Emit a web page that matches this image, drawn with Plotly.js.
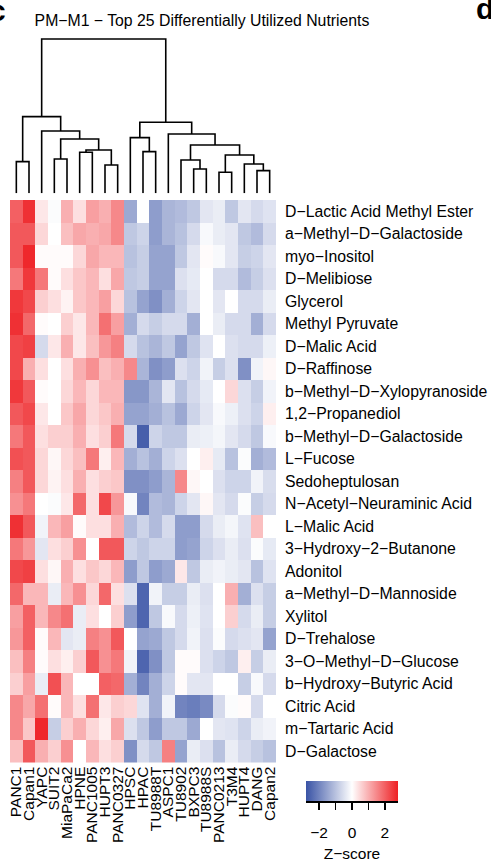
<!DOCTYPE html>
<html>
<head>
<meta charset="utf-8">
<script src="https://cdn.plot.ly/plotly-3.0.1.min.js"></script>
<style>html,body{margin:0;padding:0;background:#fff;}#chart{width:491px;height:863px;}</style>
</head>
<body>
<div id="chart"></div>
<script>
// ---- Data ----
const cellLines = ["PANC1","Capan1","YAPC","SUIT2","MiaPaCa2","HPNE","PANC1005","HUPT3","PANC0327","HPSC","HPAC","TU8988T","ASPC1","TU8902","BXPC3","TU8988S","PANC0213","T3M4","HUPT4","DANG","Capan2"];
const nutrients = ["D\u2212Lactic Acid Methyl Ester","a\u2212Methyl\u2212D\u2212Galactoside","myo\u2212Inositol","D\u2212Melibiose","Glycerol","Methyl Pyruvate","D\u2212Malic Acid","D\u2212Raffinose","b\u2212Methyl\u2212D\u2212Xylopyranoside","1,2\u2212Propanediol","b\u2212Methyl\u2212D\u2212Galactoside","L\u2212Fucose","Sedoheptulosan","N\u2212Acetyl\u2212Neuraminic Acid","L\u2212Malic Acid","3\u2212Hydroxy\u22122\u2212Butanone","Adonitol","a\u2212Methyl\u2212D\u2212Mannoside","Xylitol","D\u2212Trehalose","3\u2212O\u2212Methyl\u2212D\u2212Glucose","b\u2212Hydroxy\u2212Butyric Acid","Citric Acid","m\u2212Tartaric Acid","D\u2212Galactose"];

// z-scores per nutrient (columns in cellLines order)
const dLacticAcidMethylEster = [2.0,2.6,0.3,-0.05,1.0,0.4,1.2,1.0,1.5,-1.4,0,-1.6,-1.2,-1.1,-0.9,-0.4,-0.3,-0.9,-0.4,-0.6,-0.45];
const aMethylDGalactoside   = [2.1,2.1,0.5,0,0.8,1.1,1.0,1.1,1.5,-0.9,-0.7,-1.6,-1.2,-1.0,-0.6,-0.1,-0.3,-0.4,-0.9,-1.1,-0.6];
const myoInositol           = [2.1,2.7,0.05,0.05,0.05,0.5,1.1,0.9,0.9,-1.0,-0.8,-1.5,-1.5,-0.9,-0.4,0.05,-0.1,-0.4,-0.8,-0.7,-0.4];
const dMelibiose            = [1.7,2.5,1.7,0.05,0.4,0.7,0.9,0.4,1.1,-0.9,-0.8,-1.5,-1.5,-0.5,-0.35,0,-0.6,-0.6,-1.1,-0.8,-0.5];
const glycerol              = [2.5,2.3,0.6,0.4,0.15,0.7,0.9,1.2,0.5,-1.0,-1.5,-1.8,-1.3,-0.7,-0.4,0,-0.4,0,-0.6,-0.6,-0.3];
const methylPyruvate        = [2.6,1.9,0.05,0,0.6,0.3,0.9,1.8,1.2,-1.3,-0.6,-0.8,-0.6,-0.6,-1.3,0,-0.3,-0.6,-0.6,-1.3,-0.6];
const dMalicAcid            = [2.3,2.4,-0.6,0.3,1.0,0.3,0.8,1.3,1.6,-0.6,-1.0,-1.2,-0.9,-1.5,-0.9,-0.45,0,-0.5,-0.6,-0.6,-0.25];
const dRaffinose            = [2.3,1.0,0.4,0,0.4,1.0,1.4,0.8,1.0,1.5,-1.2,-1.8,-1.6,-0.5,-0.7,-0.2,-0.8,-0.5,-1.8,-0.2,0.1];
const bMethylDXylopyranoside= [2.5,2.1,0.05,0,0.5,0.9,0.5,0.9,0.9,-1.7,-1.7,-1.2,-0.4,-1.0,-0.6,-0.35,0,0.5,-0.5,-0.8,-0.2];
const propanediol12         = [2.1,2.3,0.3,0,0.7,1.1,0.5,0.7,1.0,-1.5,-1.5,-1.3,-1.0,-1.4,-0.7,-0.4,-0.1,-0.25,-0.5,-0.7,0.2];
const bMethylDGalactoside   = [1.7,2.1,0.4,0.6,0.6,1.0,0.4,0.6,1.7,-0.6,-2.6,-0.7,-0.9,-0.9,-0.3,-0.25,-0.15,-0.4,-0.6,-0.9,-0.1];
const lFucose               = [2.2,2.1,0.5,0.1,0.5,0.8,1.7,0.2,0.9,-1.3,-1.0,-1.3,-0.7,-0.5,0,0.2,-0.35,-1.0,-0.05,-1.3,-1.1];
const sedoheptulosan        = [1.6,2.1,0.5,0.15,0.4,1.0,0.4,0.6,0.7,-1.8,-1.8,-1.6,-1.2,1.5,0.1,0,-0.5,-0.7,-0.7,-0.2,-0.55];
const nAcetylNeuraminicAcid = [1.4,1.7,0,-0.05,0.3,1.9,0.4,2.3,1.3,-0.1,-2.0,-1.1,-1.2,-0.7,-0.4,0.1,-0.4,-0.6,-0.05,-0.8,-0.6];
const lMalicAcid            = [2.6,2.1,-0.2,0.9,1.2,0.05,0.4,0.4,1.0,-1.1,-0.7,-1.1,-0.6,-1.6,-1.6,-0.6,-0.3,-0.15,-0.45,0.8,0];
const hydroxyButanone       = [1.7,1.3,-0.4,0.4,0.6,1.4,0,2.1,2.1,-0.7,-0.9,-0.7,-0.7,-1.6,-1.5,-0.7,-0.5,-0.3,-0.5,-0.05,-0.35];
const adonitol              = [2.3,2.4,0.4,0.1,1.0,0.4,0.7,0.5,0.9,-1.6,-0.9,-1.6,-1.4,0.3,-0.9,-0.3,-0.2,-0.3,-0.4,-1.0,-0.45];
const aMethylDMannoside     = [1.9,0.9,0.9,-0.3,0.9,1.4,0.5,1.9,0.4,-0.5,-2.5,-0.2,-0.8,-0.8,-0.3,-0.5,0,1.0,-1.3,-0.5,-0.8];
const xylitol               = [1.2,2.0,0.9,1.5,1.8,-0.3,0.4,0,0.6,-1.6,-2.5,-0.9,-0.1,-0.6,-0.25,-0.45,0,0.6,-0.6,-0.3,-0.8];
const dTrehalose            = [1.3,2.0,0.05,0.9,-0.4,-0.3,1.6,1.4,2.1,0,-1.5,-1.4,-0.9,-0.6,-0.2,-0.5,-0.05,-0.6,-0.5,-0.4,-1.5];
const oMethylDGlucose       = [0.8,1.6,0.05,0.4,0.2,0.6,2.1,1.4,1.7,-0.2,-2.5,-1.8,-0.9,0.05,0.05,-0.5,-0.7,-0.9,0.2,-0.8,-0.3];
const bHydroxyButyricAcid   = [0.6,1.2,-0.3,2.2,0.9,0,0,2.0,1.9,-1.3,-2.0,-1.3,-0.7,0.05,-0.4,-0.4,0,0,-0.8,-0.1,-0.6];
const citricAcid            = [1.5,1.1,1.8,0.05,0.9,0.4,1.8,0.3,0.6,0.5,-0.45,-1.3,-0.2,-2.0,-2.1,-1.9,-0.6,-0.05,0.05,-0.6,0];
const mTartaricAcid         = [1.5,0.7,2.7,-0.8,0.6,1.0,0.5,0.2,1.1,-0.5,-0.9,-1.6,-0.9,-0.9,-1.4,0,-0.4,-0.45,-0.7,-0.3,-0.2];
const dGalactose            = [0.8,2.1,1.0,0.6,1.4,0,0.9,0.4,0.6,-1.8,-0.6,-0.9,1.6,-1.5,-0.3,-0.5,-1.0,-0.3,-0.6,-0.8,-1.0];

// Column dendrogram (hclust-style merges; "L" = leaf index, "M" = earlier merge number)
const mergeLeft   = ["L0","L3","L5","L7","M3","M2","L2","M1","L10","L9","L14","L13","L16","L19","L18","M13","M12","L12","M10","M8"];
const mergeRight  = ["L1","L4","L6","L8","M4","M5","M6","M7","L11","M9","L15","M11","L17","L20","M14","M15","M16","M17","M18","M19"];
const mergeHeight = [31.7,34.3,41,28.3,43.3,54.3,62.3,76.7,41.7,55.7,24.3,33.3,21,22.7,29.3,38.3,48.3,59.3,71,154.3];

const zTicks = [-2,-1,0,1,2];
const zTickText = ["\u22122","","0","","2"];

// ---- Build ----
const zRows = [dLacticAcidMethylEster,aMethylDGalactoside,myoInositol,dMelibiose,glycerol,methylPyruvate,dMalicAcid,dRaffinose,bMethylDXylopyranoside,propanediol12,bMethylDGalactoside,lFucose,sedoheptulosan,nAcetylNeuraminicAcid,lMalicAcid,hydroxyButanone,adonitol,aMethylDMannoside,xylitol,dTrehalose,oMethylDGlucose,bHydroxyButyricAcid,citricAcid,mTartaricAcid,dGalactose];
const colIdx = cellLines.map((_, i) => i);
const rowIdx = nutrients.map((_, i) => i);

const nodeX = [], nodeH = [];
function childPos(ref) {
  const n = parseInt(ref.slice(1), 10);
  if (ref[0] === "L") return { x: n, h: 0 };
  return { x: nodeX[n - 1], h: nodeH[n - 1] };
}
const dx = [], dy = [];
for (let i = 0; i < mergeHeight.length; i++) {
  const a = childPos(mergeLeft[i]);
  const b = childPos(mergeRight[i]);
  const h = mergeHeight[i];
  nodeX.push((a.x + b.x) / 2);
  nodeH.push(h);
  dx.push(a.x, a.x, b.x, b.x, null);
  dy.push(a.h, h, h, b.h, null);
}

const FONT = "Liberation Sans, Arial, Helvetica, sans-serif";
const W = 491, H = 863;
const mL = 10, mR = 0, mT = 0, mB = 0;
const plotW = W - mL - mR, plotH = H - mT - mB;
const px2paperX = px => (px - mL) / plotW;
const px2paperY = py => (plotH + mT - py) / plotH;
const zLim = 2.8;

const heat = {
  type: "heatmap",
  x: colIdx, y: rowIdx, z: zRows,
  zmin: -zLim, zmax: zLim,
  colorscale: [[0, "#3953a5"], [0.5, "#ffffff"], [1, "#ee2024"]],
  xgap: 0, ygap: 0,
  hoverinfo: "skip",
  colorbar: {
    orientation: "h",
    xref: "paper", yref: "paper",
    x: px2paperX(306), xanchor: "left",
    y: px2paperY(781), yanchor: "top",
    len: 92, lenmode: "pixels",
    thickness: 19.5, thicknessmode: "pixels",
    xpad: 0, ypad: 0,
    outlinewidth: 0,
    ticks: "", showticklabels: false
  }
};

const dendro = {
  type: "scatter", mode: "lines",
  x: dx, y: dy, xaxis: "x", yaxis: "y2",
  line: { color: "#000", width: 1.6 },
  hoverinfo: "skip", showlegend: false
};

// invisible carrier trace for the colour-key axis
const keyAxisTrace = {
  type: "scatter", mode: "markers",
  x: [-zLim, zLim], y: [0.5, 0.5], xaxis: "x2", yaxis: "y3",
  marker: { opacity: 0 }, hoverinfo: "skip", showlegend: false
};

const layout = {
  width: W, height: H,
  margin: { l: mL, r: mR, t: mT, b: mB, pad: 0 },
  paper_bgcolor: "#fff", plot_bgcolor: "rgba(0,0,0,0)",
  font: { family: FONT, color: "#000" },
  showlegend: false,
  title: {
    text: "PM\u2212M1 \u2212 Top 25 Differentially Utilized Nutrients",
    font: { family: FONT, size: 15.8, color: "#000" },
    xref: "container", x: 202 / W, xanchor: "center",
    yref: "container", y: (H - 20.5) / H, yanchor: "middle"
  },
  xaxis: {
    domain: [0, px2paperX(276)],
    range: [-0.5, cellLines.length - 0.5],
    tickmode: "array", tickvals: colIdx, ticktext: cellLines,
    tickangle: -90, ticks: "", showgrid: false, zeroline: false, showline: false,
    tickfont: { family: FONT, size: 15.5, color: "#000" },
    fixedrange: true
  },
  yaxis: {
    domain: [px2paperY(762.5), px2paperY(200)],
    range: [nutrients.length - 0.5, -0.5],
    side: "right",
    tickmode: "array", tickvals: rowIdx, ticktext: nutrients,
    ticks: "", ticklabelstandoff: 8,
    showgrid: false, zeroline: false, showline: false,
    tickfont: { family: FONT, size: 15.8, color: "#000" },
    fixedrange: true
  },
  yaxis2: {
    domain: [px2paperY(193.3), px2paperY(33.3)],
    range: [0, 160],
    visible: false, showgrid: false, zeroline: false,
    fixedrange: true
  },
  xaxis2: {
    domain: [px2paperX(306), px2paperX(398)],
    range: [-zLim, zLim],
    anchor: "y3", side: "bottom",
    showline: true, linecolor: "#000", linewidth: 1.5,
    ticks: "outside", ticklen: 7, tickwidth: 1.5, tickcolor: "#000",
    tickmode: "array", tickvals: zTicks, ticktext: zTickText,
    ticklabelstandoff: 10,
    tickfont: { family: FONT, size: 15.5, color: "#000" },
    title: { text: "Z\u2212score", font: { family: FONT, size: 15.5, color: "#000" }, standoff: 8 },
    showgrid: false, zeroline: false, fixedrange: true
  },
  yaxis3: {
    domain: [px2paperY(801), px2paperY(781)],
    range: [0, 1], anchor: "x2",
    visible: false, fixedrange: true
  },
  annotations: [
    { text: "<b>c</b>", xref: "paper", yref: "paper", x: px2paperX(8), y: px2paperY(10),
      xanchor: "right", yanchor: "middle", showarrow: false,
      font: { family: FONT, size: 30, color: "#000" } },
    { text: "<b>d</b>", xref: "paper", yref: "paper", x: px2paperX(474), y: px2paperY(9),
      xanchor: "left", yanchor: "middle", showarrow: false,
      font: { family: FONT, size: 30, color: "#000" } }
  ]
};

Plotly.newPlot("chart", [heat, dendro, keyAxisTrace], layout, { displayModeBar: false, staticPlot: true });
</script>
</body>
</html>
